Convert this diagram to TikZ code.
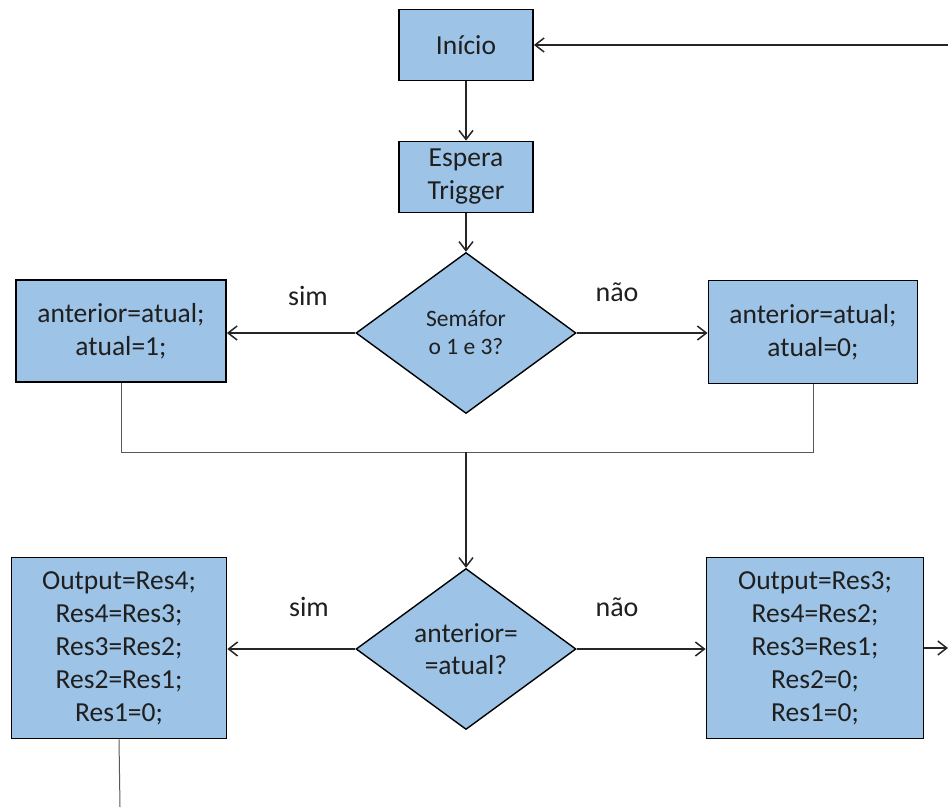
\documentclass[tikz,border=0pt]{standalone}
\usepackage{fontspec}
\setmainfont{Carlito}
\usetikzlibrary{shapes.geometric,arrows.meta}

\definecolor{azulcaixa}{HTML}{9DC3E6}

\begin{document}
\begin{tikzpicture}[x=1pt,y=-1pt,
    caixa/.style={draw=black,line width=1.8pt,fill=azulcaixa,align=center,inner sep=0pt,text=black!88,font=\fontsize{27.5}{33}\selectfont},
    decisao/.style={draw=black,line width=1.4pt,fill=azulcaixa,diamond,shape aspect=1.37,minimum width=220pt,minimum height=161pt,inner sep=0pt,align=center,text=black!88,font=\fontsize{27.5}{32}\selectfont},
    seta/.style={line width=1.5pt,draw=black!85,-{Straight Barb[length=9pt,width=14pt]}},
    juncao/.style={line width=1pt,draw=black!65},
    rotulo/.style={text=black!88,font=\fontsize{28}{30}\selectfont}]
    \useasboundingbox (0,0) rectangle (948,807);

    % caixas de cima
    \node[caixa,minimum width=134pt,minimum height=71pt] (inicio) at (466,45) {Início};
    \node[caixa,minimum width=134pt,minimum height=71pt] (espera) at (466,177) {Espera\\Trigger};

    % primeira decisao
    \node[decisao,font=\fontsize{23.5}{28}\selectfont] (semaforo) at (466,333) {Semáfor\\o 1 e 3?};
    \node[caixa,minimum width=210pt,minimum height=102pt] (sim1) at (121,331) {anterior=atual;\\atual=1;};
    \node[caixa,minimum width=209pt,minimum height=103pt] (nao1) at (813,332) {anterior=atual;\\atual=0;};
    \node[rotulo] (lsim1) at (308,296) {sim};
    \node[rotulo] (lnao1) at (617,292) {não};

    % segunda decisao
    \node[decisao] (compara) at (466,649) {anterior=\\=atual?};
    \node[caixa,minimum width=215pt,minimum height=181pt] (sim2) at (119,648)
        {Output=Res4;\\Res4=Res3;\\Res3=Res2;\\Res2=Res1;\\Res1=0;};
    \node[caixa,minimum width=217pt,minimum height=181pt] (nao2) at (815,648)
        {Output=Res3;\\Res4=Res2;\\Res3=Res1;\\Res2=0;\\Res1=0;};
    \node[rotulo] (lsim2) at (309,607) {sim};
    \node[rotulo] (lnao2) at (617,607) {não};

    % pontas soltas
    \coordinate (volta) at (948,45);
    \coordinate (saida) at (948,648);
    \coordinate (desce) at (120,807);
    \coordinate (junta) at (466,452);

    % setas
    \draw[seta] (volta) -- (inicio);
    \draw[seta] (inicio) -- (espera);
    \draw[seta] (espera) -- (semaforo);
    \draw[seta] (semaforo.west) -- (semaforo.west -| sim1.east);
    \draw[seta] (semaforo.east) -- (semaforo.east -| nao1.west);
    \draw[juncao] (sim1.south) |- (junta) -| (nao1.south);
    \draw[seta] (junta) -- (compara);
    \draw[seta] (compara.west) -- (compara.west -| sim2.east);
    \draw[seta] (compara.east) -- (compara.east -| nao2.west);
    \draw[seta] (nao2.east) -- (saida);
    \draw[juncao] (sim2.south) -- (desce);
\end{tikzpicture}
\end{document}
